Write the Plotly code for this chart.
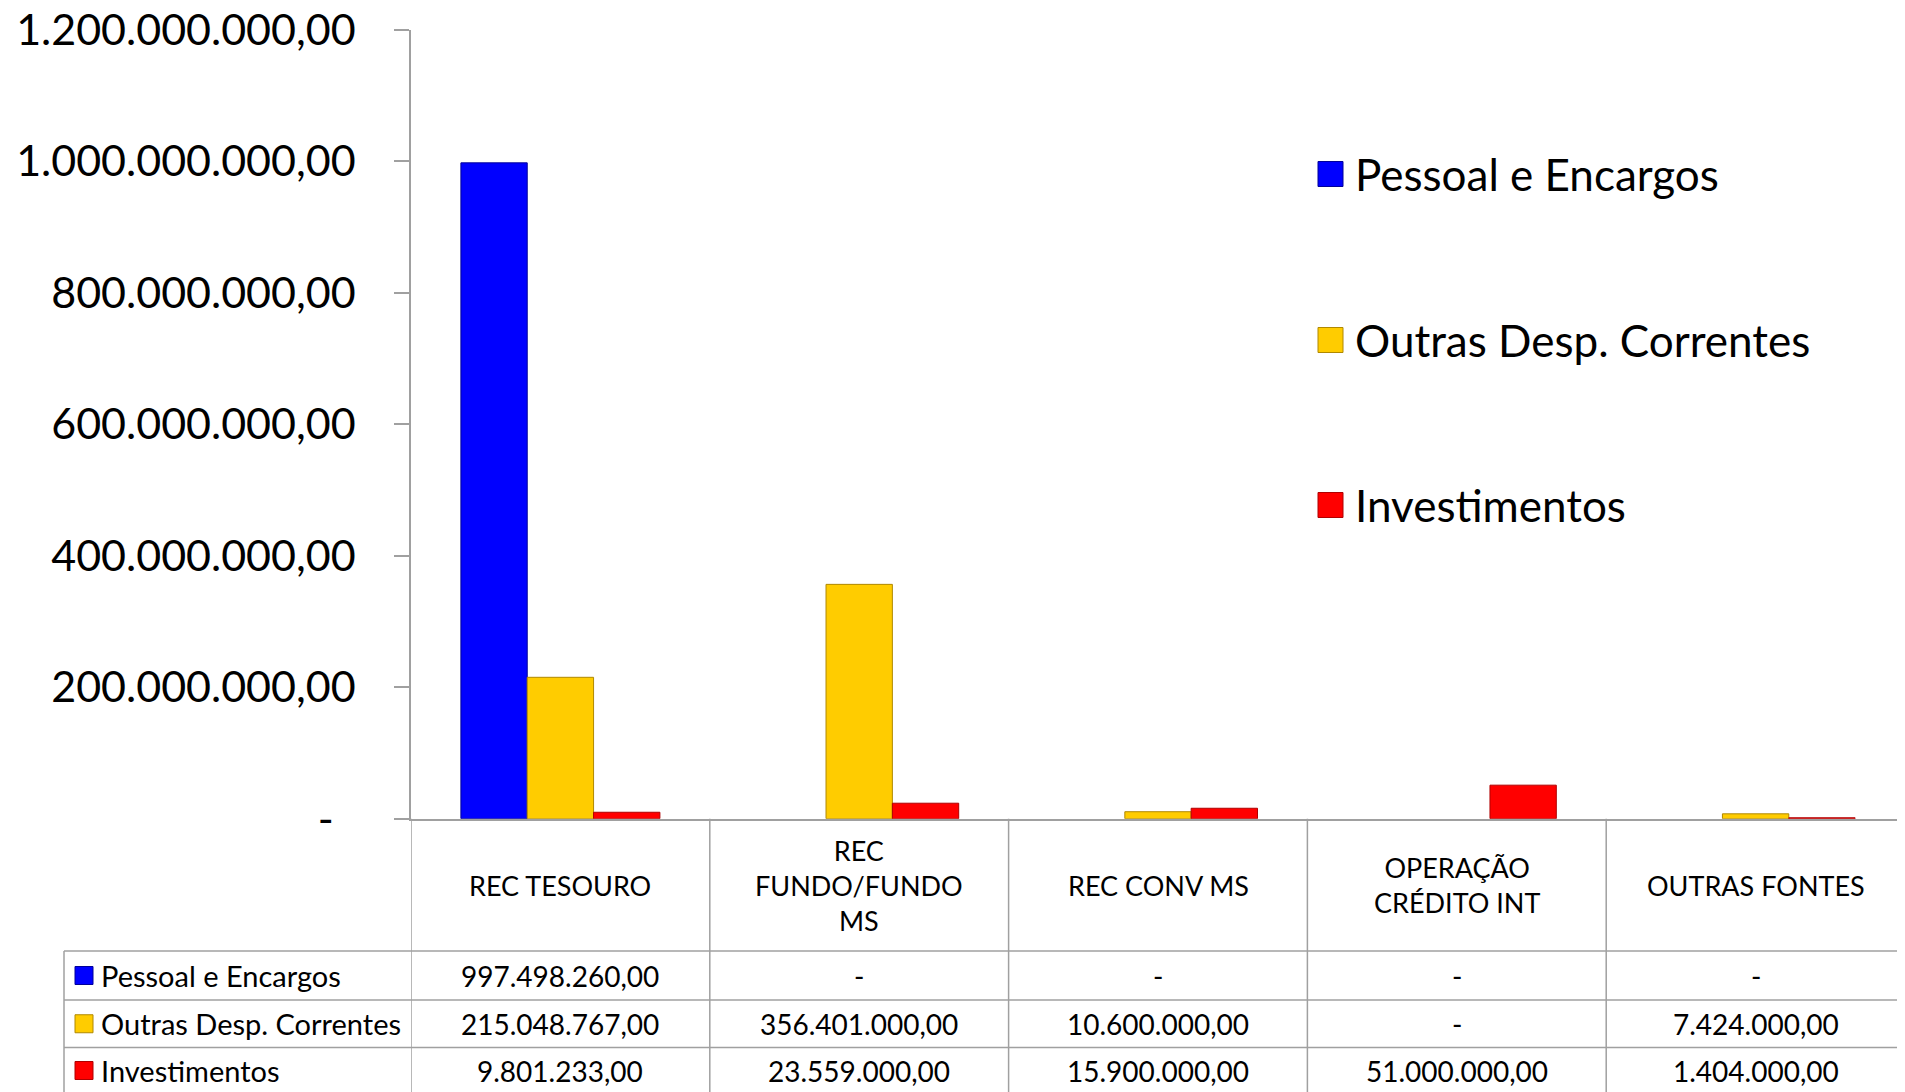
import plotly.graph_objects as go

# chart data
categories = ["REC TESOURO", "REC FUNDO/FUNDO MS", "REC CONV MS", "OPERAÇÃO CRÉDITO INT", "OUTRAS FONTES"]
header_labels = ["REC TESOURO", "REC<br>FUNDO/FUNDO<br>MS", "REC CONV MS", "OPERAÇÃO<br>CRÉDITO INT", "OUTRAS FONTES"]
series_names = ["Pessoal e Encargos", "Outras Desp. Correntes", "Investimentos"]
pessoal = [997498260.00, 0, 0, 0, 0]
outras = [215048767.00, 356401000.00, 10600000.00, 0, 7424000.00]
investimentos = [9801233.00, 23559000.00, 15900000.00, 51000000.00, 1404000.00]
tick_vals = [0, 200000000, 400000000, 600000000, 800000000, 1000000000, 1200000000]
tick_text = ["-\u00a0\u00a0", "200.000.000,00", "400.000.000,00", "600.000.000,00",
             "800.000.000,00", "1.000.000.000,00", "1.200.000.000,00"]

colors = ["#0000FF", "#FFCC00", "#FF0000"]
edges = ["#00009A", "#B08800", "#B00000"]
OFF = 8  # page body margin
W, H = 1905 - OFF, 1092 - OFF
FONT = "Lato"
GRID = "#A0A0A0"


def fmt_br(v):
    if v == 0:
        return "-"
    s = f"{v:,.2f}"
    return s.replace(",", "X").replace(".", ",").replace("X", ".")


def py(px):  # screen row -> paper y
    return 1 - (px - OFF) / H


def px_x(px):  # screen col -> paper x
    return (px - OFF) / W


series = [pessoal, outras, investimentos]
fig = go.Figure()
for name, vals, c, e in zip(series_names, series, colors, edges):
    fig.add_trace(go.Bar(x=categories, y=vals, name=name, showlegend=False,
                         marker=dict(color=c, line=dict(color=e, width=[1 if v else 0 for v in vals]))))

fig.update_layout(
    width=W, height=H,
    margin=dict(l=0, r=0, t=0, b=0),
    paper_bgcolor="white", plot_bgcolor="white",
    barmode="group", bargap=0.334, bargroupgap=0,
    font=dict(family=FONT, color="black"),
    xaxis=dict(domain=[px_x(411), 1], range=[-0.5, 4.5], showticklabels=False, automargin=False,
               showgrid=False, zeroline=False, showline=True, linecolor=GRID, linewidth=1.5),
    yaxis=dict(domain=[py(818.7), py(29.7)], range=[0, 1.2e9], tickvals=tick_vals, ticktext=tick_text,
               tickfont=dict(size=43, family=FONT), ticks="outside", ticklen=15, tickcolor=GRID,
               tickwidth=1.5, ticklabelstandoff=30, ticklabeloverflow="allow",
               showgrid=False, zeroline=False, automargin=False,
               showline=True, linecolor=GRID, linewidth=1.5),
)

shapes = []
annotations = []

# table lines
y_top, y_bot = py(818.7), 0
for i in range(6):
    shapes.append(dict(type="line", xref="x", yref="paper", x0=i - 0.5, x1=i - 0.5,
                       y0=y_top, y1=y_bot, line=dict(color=GRID, width=1.5)))
for ypx in [951, 1000, 1047.5]:
    shapes.append(dict(type="line", xref="paper", yref="paper", x0=px_x(64), x1=1,
                       y0=py(ypx), y1=py(ypx), line=dict(color=GRID, width=1.5)))
shapes.append(dict(type="line", xref="paper", yref="paper", x0=px_x(64), x1=px_x(64),
                   y0=py(951), y1=0, line=dict(color=GRID, width=1.5)))

# header row
for i, lab in enumerate(header_labels):
    annotations.append(dict(x=i, y=py(885), xref="x", yref="paper", text=lab, showarrow=False,
                            xanchor="center", yanchor="middle",
                            font=dict(size=27, family=FONT), align="center"))

# data rows
row_y = [975.5, 1023.75, 1070.5]
for r, (name, vals) in enumerate(zip(series_names, series)):
    yc = py(row_y[r])
    shapes.append(dict(type="rect", xref="paper", yref="paper",
                       x0=px_x(75), x1=px_x(93), y0=yc - 9 / H, y1=yc + 9 / H,
                       fillcolor=colors[r], line=dict(color=edges[r], width=1)))
    annotations.append(dict(x=px_x(99), y=yc, xref="paper", yref="paper", text=name,
                            showarrow=False, xanchor="left", yanchor="middle",
                            font=dict(size=29, family=FONT)))
    for i, v in enumerate(vals):
        annotations.append(dict(x=i, y=yc, xref="x", yref="paper", text=fmt_br(v),
                                showarrow=False, xanchor="center", yanchor="middle",
                                font=dict(size=28, family=FONT)))

# legend
leg_y = [174, 340, 505]
for r, name in enumerate(series_names):
    yc = py(leg_y[r])
    shapes.append(dict(type="rect", xref="paper", yref="paper",
                       x0=px_x(1318), x1=px_x(1343), y0=yc - 12.5 / H, y1=yc + 12.5 / H,
                       fillcolor=colors[r], line=dict(color=edges[r], width=1)))
    annotations.append(dict(x=px_x(1353), y=yc, xref="paper", yref="paper", text=name,
                            showarrow=False, xanchor="left", yanchor="middle",
                            font=dict(size=44, family=FONT)))

fig.update_layout(shapes=shapes, annotations=annotations)
fig.write_html("out.html")
